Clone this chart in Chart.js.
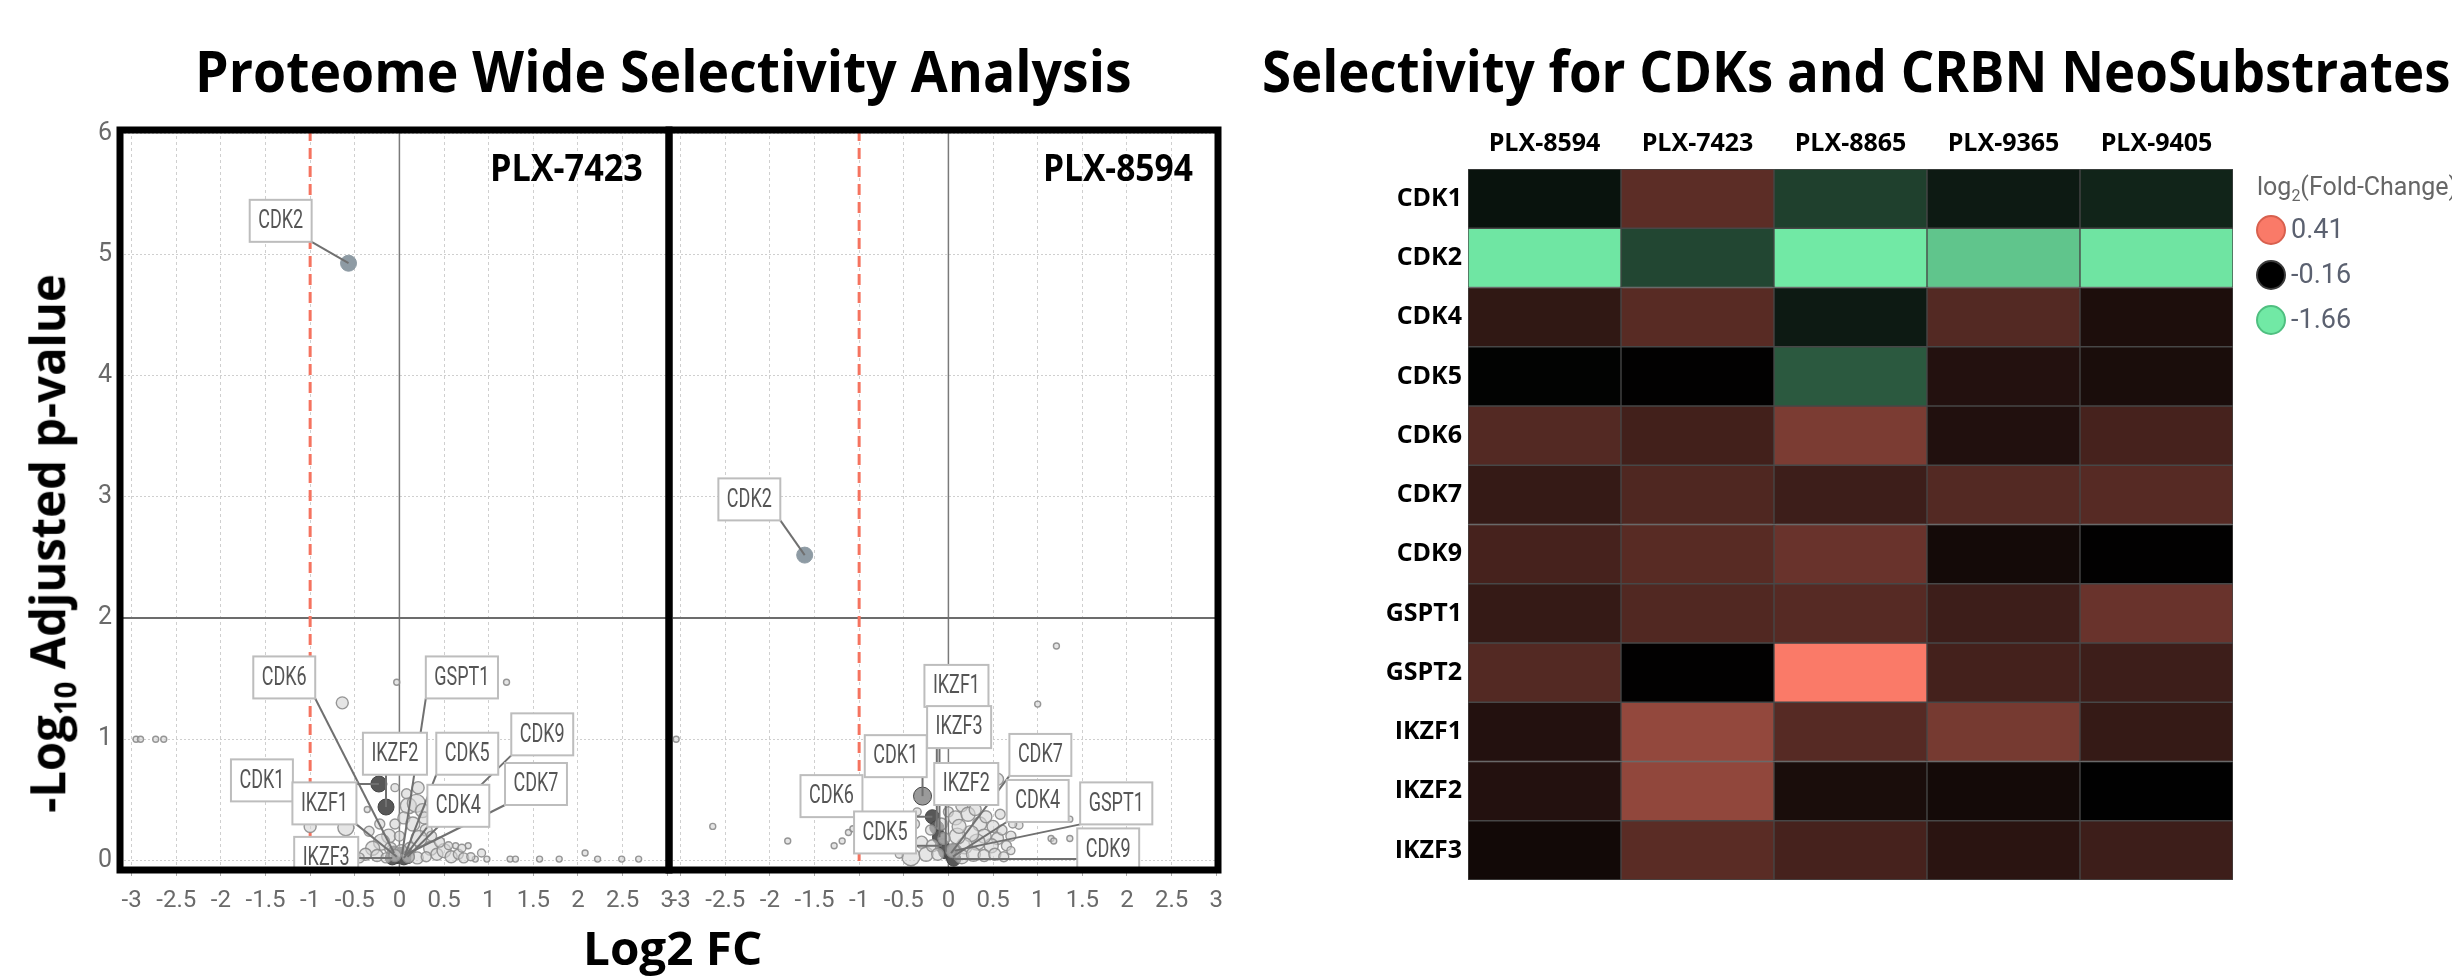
<!DOCTYPE html>
<html>
<head>
<meta charset="utf-8">
<script src="https://cdn.jsdelivr.net/npm/chart.js@4.4.1/dist/chart.umd.min.js"></script>
<style>
  html, body { margin: 0; padding: 0; background: #fff; }
  body { width: 2452px; height: 977px; position: relative; overflow: hidden; }
  canvas { position: absolute; }
  .t { position: absolute; font-family: 'Open Sans', sans-serif; font-weight: 700; color: #000;
       white-space: nowrap; line-height: 1; transform-origin: 0 0; }
  .t sub { font-size: 0.62em; line-height: 0; }
</style>
</head>
<body>
<canvas id="v7423" width="700" height="840" style="left:0;top:100px;width:700px;height:840px"></canvas>
<canvas id="v8594" width="620" height="840" style="left:640px;top:100px;width:620px;height:840px"></canvas>
<canvas id="heat" width="1152" height="800" style="left:1300px;top:110px;width:1152px;height:800px"></canvas>

<div class="t" id="t1" style="left:195px;top:42px;font-size:57px">Proteome Wide Selectivity Analysis</div>
<div class="t" id="t2" style="left:1262px;top:42px;font-size:57px">Selectivity for CDKs and CRBN NeoSubstrates</div>
<div class="t" id="xt" style="left:583px;top:924px;font-size:46px">Log2 FC</div>
<div class="t" id="yt" style="font-size:49px">-Log<sub>10</sub> Adjusted p-value</div>
<div class="t" id="pl1" style="left:490px;top:147px;font-size:38px">PLX-7423</div>
<div class="t" id="pl2" style="left:1043px;top:147px;font-size:38px">PLX-8594</div>

<script>
Chart.defaults.font.family = 'Roboto';
Chart.defaults.animation = false;

// ---- volcano plots ----
var xTicks = [-3, -2.5, -2, -1.5, -1, -0.5, 0, 0.5, 1, 1.5, 2, 2.5, 3];
var yTicks = [0, 1, 2, 3, 4, 5, 6];
var pCutoff = 2;
var fcCutoff = -1;

// PLX-7423, labelled proteins
var genes7423 = ['CDK2', 'CDK1', 'IKZF2', 'CDK6', 'IKZF1', 'IKZF3', 'GSPT1', 'CDK5', 'CDK9', 'CDK7', 'CDK4'];
var fc7423 = [-0.57, -0.23, -0.15, -0.06, -0.03, -0.08, 0.03, 0.06, 0.09, 0.08, 0.05];
var p7423 = [4.93, 0.63, 0.44, 0.06, 0.03, 0.02, 0.05, 0.04, 0.03, 0.05, 0.02];
var size7423 = [8, 8, 8, 7, 7, 7, 7, 7, 7, 7, 7];

// PLX-7423, all other proteins
var bgFc7423 = [-2.95, -2.9, -2.73, -2.64, -0.03, 1.2, -0.64, -1.0, -0.6, -0.36, 0.63, 0.77, 0.85, 0.98, 1.24, 1.3, 1.57, 1.79, 2.08, 2.22, 2.49, 2.68,
  0.1, 0.19, 0.26, 0.05, 0.15, 0.3, 0.22, -0.05, -0.12, -0.2, -0.3, -0.38, -0.45, -0.25, 0.35, 0.42, 0.5, 0.58, 0.66, 0.72, 0.8, 0.28, 0.36,
  -0.1, 0.0, 0.12, -0.34, 0.45, 0.55, -0.15, 0.2, 0.3, -0.52, 0.08, 0.21, -0.05, 0.4, -0.22, 0.02, -0.05, 0.1, -0.6, -0.7, 0.92, 0.7];
var bgP7423 = [1.0, 1.0, 1.0, 1.0, 1.47, 1.47, 1.3, 0.28, 0.27, 0.42, 0.12, 0.12, 0.01, 0.01, 0.01, 0.01, 0.01, 0.01, 0.06, 0.01, 0.01, 0.01,
  0.45, 0.47, 0.41, 0.35, 0.3, 0.25, 0.18, 0.3, 0.2, 0.15, 0.1, 0.05, 0.02, 0.04, 0.1, 0.05, 0.08, 0.03, 0.05, 0.02, 0.03, 0.35, 0.2,
  0.1, 0.2, 0.1, 0.24, 0.15, 0.12, 0.02, 0.02, 0.03, 0.1, 0.55, 0.6, 0.6, 0.33, 0.3, 0.08, 0.04, 0.03, 0.03, 0.02, 0.06, 0.1];
var bgSize7423 = [3, 3, 3, 3, 3, 3, 6, 6, 8, 3, 3, 3, 3, 3, 3, 3, 3, 3, 3, 3, 3, 3,
  8, 9, 7, 6, 7, 6, 8, 5, 7, 8, 7, 6, 5, 6, 7, 6, 7, 6, 5, 5, 4, 6, 5,
  6, 5, 6, 5, 5, 4, 5, 6, 5, 4, 5, 6, 4, 5, 5, 6, 6, 6, 4, 4, 4, 4];

// PLX-8594, labelled proteins
var genes8594 = ['CDK2', 'CDK1', 'CDK6', 'IKZF1', 'IKZF3', 'CDK5', 'IKZF2', 'CDK7', 'CDK4', 'GSPT1', 'CDK9'];
var fc8594v = [-1.61, -0.29, -0.18, -0.13, -0.1, -0.07, -0.03, 0.03, 0.05, 0.07, 0.06];
var p8594v = [2.52, 0.53, 0.36, 0.27, 0.19, 0.12, 0.07, 0.06, 0.03, 0.08, 0.01];
var size8594 = [8, 9, 7, 7, 7, 7, 7, 7, 7, 7, 7];

// PLX-8594, all other proteins
var bgFc8594 = [-3.05, -2.64, -1.8, -1.28, -1.19, -1.12, -1.07, 1.21, 1.0, 1.36, 1.15, 1.18, 1.36, 0.79, -0.42, -0.5, -0.45, -0.38, -0.3, -0.25,
  -0.18, -0.08, 0.0, 0.08, 0.15, 0.22, 0.3, 0.35, 0.42, 0.5, 0.55, 0.6, 0.65, 0.7, 0.48, 0.4, 0.32, 0.25, 0.18, 0.1,
  0.05, 0.15, 0.28, 0.4, 0.52, 0.62, -0.12, -0.05, 0.55, 0.45, 0.38, 0.2, 0.7, -0.55, -0.35, 0.12, 0.58, 0.72, -0.2, 0.02];
var bgP8594 = [1.0, 0.28, 0.16, 0.12, 0.16, 0.23, 0.26, 1.77, 1.29, 0.34, 0.18, 0.16, 0.18, 0.29, 0.03, 0.1, 0.2, 0.3, 0.15, 0.05,
  0.12, 0.3, 0.4, 0.35, 0.45, 0.38, 0.42, 0.3, 0.36, 0.28, 0.18, 0.25, 0.12, 0.2, 0.12, 0.2, 0.15, 0.22, 0.12, 0.2,
  0.08, 0.03, 0.05, 0.04, 0.05, 0.03, 0.05, 0.18, 0.67, 0.55, 0.5, 0.55, 0.08, 0.05, 0.4, 0.28, 0.38, 0.3, 0.25, 0.55];
var bgSize8594 = [3, 3, 3, 3, 3, 3, 3, 3, 3, 3, 3, 3, 3, 4, 9, 5, 4, 5, 6, 7,
  6, 6, 5, 7, 6, 7, 6, 7, 6, 6, 6, 5, 5, 5, 7, 7, 8, 8, 8, 8,
  7, 7, 7, 6, 6, 5, 6, 6, 6, 5, 5, 5, 4, 4, 4, 7, 5, 4, 5, 4];

// where the name boxes sit, in axis units
var boxes7423 = { CDK2: [-1.33, 5.28], CDK6: [-1.29, 1.51], GSPT1: [0.7, 1.51], IKZF2: [-0.05, 0.88], CDK5: [0.76, 0.88],
  CDK9: [1.6, 1.04], CDK1: [-1.54, 0.66], IKZF1: [-0.84, 0.47], CDK4: [0.66, 0.45], CDK7: [1.53, 0.63], IKZF3: [-0.82, 0.02] };
var boxes8594 = { CDK2: [-2.23, 2.98], IKZF1: [0.09, 1.44], IKZF3: [0.12, 1.1], CDK1: [-0.59, 0.86], CDK7: [1.03, 0.87],
  IKZF2: [0.2, 0.63], CDK4: [1.0, 0.49], GSPT1: [1.88, 0.47], CDK6: [-1.31, 0.53], CDK5: [-0.71, 0.23], CDK9: [1.79, 0.09] };

function volcanoDeco(genes, fc, p, boxes) {
  return {
    id: 'volcanoDeco',
    beforeDatasetsDraw: function(chart) {
      var ctx = chart.ctx, a = chart.chartArea, x = chart.scales.x, y = chart.scales.y;
      ctx.save();
      ctx.strokeStyle = '#7a7a7a';
      ctx.lineWidth = 1.5;
      ctx.beginPath();
      ctx.moveTo(x.getPixelForValue(0), a.top);
      ctx.lineTo(x.getPixelForValue(0), a.bottom);
      ctx.stroke();
      ctx.strokeStyle = '#6c6c6c';
      ctx.lineWidth = 2;
      ctx.beginPath();
      ctx.moveTo(a.left, y.getPixelForValue(pCutoff));
      ctx.lineTo(a.right, y.getPixelForValue(pCutoff));
      ctx.stroke();
      ctx.strokeStyle = '#f5735f';
      ctx.lineWidth = 3;
      ctx.setLineDash([11, 7]);
      ctx.beginPath();
      ctx.moveTo(x.getPixelForValue(fcCutoff), a.top);
      ctx.lineTo(x.getPixelForValue(fcCutoff), a.bottom);
      ctx.stroke();
      ctx.restore();
    },
    afterDatasetsDraw: function(chart) {
      var ctx = chart.ctx, a = chart.chartArea, x = chart.scales.x, y = chart.scales.y;
      ctx.save();
      ctx.beginPath();
      ctx.rect(a.left, a.top, a.right - a.left, a.bottom - a.top);
      ctx.clip();
      ctx.font = '25px Roboto';
      var h = 42;
      var items = genes.map(function(g, i) {
        var b = boxes[g];
        var w = ctx.measureText(g).width * 0.72 + 17;
        return { g: g, px: x.getPixelForValue(fc[i]), py: y.getPixelForValue(p[i]),
                 bx: x.getPixelForValue(b[0]), by: y.getPixelForValue(b[1]), w: w };
      });
      // leader lines first, boxes over them
      ctx.strokeStyle = '#707070';
      ctx.lineWidth = 2;
      items.forEach(function(it) {
        var ex = Math.max(it.bx - it.w / 2, Math.min(it.px, it.bx + it.w / 2));
        var ey = Math.max(it.by - h / 2, Math.min(it.py, it.by + h / 2));
        ctx.beginPath();
        ctx.moveTo(ex, ey);
        ctx.lineTo(it.px, it.py);
        ctx.stroke();
      });
      items.forEach(function(it) {
        ctx.fillStyle = '#fff';
        ctx.fillRect(it.bx - it.w / 2, it.by - h / 2, it.w, h);
        ctx.strokeStyle = '#bdbdbd';
        ctx.lineWidth = 2;
        ctx.strokeRect(it.bx - it.w / 2, it.by - h / 2, it.w, h);
        ctx.save();
        ctx.translate(it.bx, it.by + 1);
        ctx.scale(0.72, 1);
        ctx.fillStyle = '#555';
        ctx.textAlign = 'center';
        ctx.textBaseline = 'middle';
        ctx.fillText(it.g, 0, 0);
        ctx.restore();
      });
      ctx.restore();
    },
    afterDraw: function(chart) {
      var ctx = chart.ctx, a = chart.chartArea;
      ctx.save();
      ctx.strokeStyle = '#000';
      ctx.lineWidth = 7;
      ctx.strokeRect(a.left, a.top, a.right - a.left, a.bottom - a.top);
      ctx.restore();
    }
  };
}

function makeVolcano(id, showY, genes, fc, p, size, bgFc, bgP, bgSize, boxes, padLeft, padRight) {
  var bg = bgFc.map(function(v, i) { return { x: v, y: bgP[i], r: bgSize[i] }; });
  var hits = genes.map(function(g, i) { return { x: fc[i], y: p[i], r: size[i] }; });
  return new Chart(document.getElementById(id), {
    type: 'bubble',
    data: {
      datasets: [
        { data: bg, backgroundColor: 'rgba(212,212,212,0.6)', borderColor: 'rgba(140,140,140,0.9)', borderWidth: 1.4 },
        { data: hits,
          backgroundColor: genes.map(function(g, i) { return g === 'CDK2' ? '#8e9ba4' : (size[i] > 8 ? '#9a9a9a' : '#585858'); }),
          borderColor: genes.map(function(g) { return g === 'CDK2' ? '#8e9ba4' : '#454545'; }),
          borderWidth: 1 }
      ]
    },
    options: {
      responsive: false,
      devicePixelRatio: 1,
      layout: { padding: { top: 30, right: padRight, bottom: 10, left: 0 } },
      plugins: { legend: { display: false }, tooltip: { enabled: false } },
      scales: {
        x: {
          type: 'linear', min: -3.13, max: 3.02,
          afterBuildTicks: function(s) { s.ticks = xTicks.map(function(v) { return { value: v }; }); },
          afterFit: function(s) { s.height = 60; },
          ticks: { font: { size: 24 }, color: '#6a6a6a', maxRotation: 0, autoSkip: false, padding: 11,
                   callback: function(v) { return String(v); } },
          grid: { color: '#cfcfcf', lineWidth: 1, tickLength: 6, tickColor: '#aaa' },
          border: { display: false, dash: [3, 3] }
        },
        y: {
          type: 'linear', min: -0.08, max: 6.03,
          afterBuildTicks: function(s) { s.ticks = yTicks.map(function(v) { return { value: v }; }); },
          afterFit: function(s) { s.width = padLeft; },
          ticks: { display: showY, font: { size: 25 }, color: '#6a6a6a', padding: 8,
                   callback: function(v) { return String(v); } },
          grid: { color: '#cfcfcf', lineWidth: 1, drawTicks: false },
          border: { display: false, dash: [2, 2] }
        }
      }
    },
    plugins: [volcanoDeco(genes, fc, p, boxes)]
  });
}

makeVolcano('v7423', true, genes7423, fc7423, p7423, size7423, bgFc7423, bgP7423, bgSize7423, boxes7423, 120, 31);
makeVolcano('v8594', false, genes8594, fc8594v, p8594v, size8594, bgFc8594, bgP8594, bgSize8594, boxes8594, 29, 42);

// ---- heatmap: log2 fold change ----
var compounds = ['PLX-8594', 'PLX-7423', 'PLX-8865', 'PLX-9365', 'PLX-9405'];
var proteins = ['CDK1', 'CDK2', 'CDK4', 'CDK5', 'CDK6', 'CDK7', 'CDK9', 'GSPT1', 'GSPT2', 'IKZF1', 'IKZF2', 'IKZF3'];
var fc8594 = [-0.28, -1.64, -0.05, -0.18, 0.03, -0.04, 0.0, -0.04, 0.03, -0.08, -0.08, -0.12];
var fc7423h = [0.05, -0.61, 0.04, -0.155, -0.01, 0.02, 0.04, 0.025, -0.155, 0.175, 0.17, 0.045];
var fc8865 = [-0.57, -1.66, -0.33, -0.73, 0.12, -0.02, 0.08, 0.035, 0.41, 0.035, -0.1, 0.0];
var fc9365 = [-0.33, -1.43, 0.03, -0.08, -0.085, 0.03, -0.115, -0.02, -0.005, 0.11, -0.115, -0.065];
var fc9405 = [-0.39, -1.63, -0.095, -0.1, 0.0, 0.035, -0.155, 0.08, -0.02, -0.04, -0.157, -0.02];
var legendStops = [0.41, -0.16, -1.66];

var columns = [fc8594, fc7423h, fc8865, fc9365, fc9405];

function cellColor(v) {
  var hi = legendStops[0], mid = legendStops[1], lo = legendStops[2], t;
  if (v >= mid) {
    t = Math.min(1, (v - mid) / (hi - mid));
    return 'rgb(' + Math.round(250 * t) + ',' + Math.round(122 * t) + ',' + Math.round(104 * t) + ')';
  }
  t = Math.min(1, (mid - v) / (mid - lo));
  return 'rgb(' + Math.round(113 * t) + ',' + Math.round(233 * t) + ',' + Math.round(165 * t) + ')';
}

var heatLegend = {
  id: 'heatLegend',
  afterDraw: function(chart) {
    var ctx = chart.ctx, a = chart.chartArea;
    var lx = a.right + 24;
    ctx.save();
    ctx.fillStyle = '#666';
    ctx.textBaseline = 'alphabetic';
    ctx.font = '25px Roboto';
    ctx.fillText('log', lx, a.top + 26);
    var w1 = ctx.measureText('log').width;
    ctx.font = '16px Roboto';
    ctx.fillText('2', lx + w1, a.top + 32);
    var w2 = ctx.measureText('2').width;
    ctx.font = '25px Roboto';
    ctx.fillText('(Fold-Change)', lx + w1 + w2, a.top + 26);
    var rims = ['#d8604e', '#3a3a3a', '#4fbf80'];
    legendStops.forEach(function(v, i) {
      var cy = a.top + 61 + i * 45;
      ctx.beginPath();
      ctx.arc(a.right + 38, cy, 14, 0, Math.PI * 2);
      ctx.fillStyle = cellColor(v);
      ctx.fill();
      ctx.lineWidth = 2;
      ctx.strokeStyle = rims[i];
      ctx.stroke();
      ctx.fillStyle = '#5b6170';
      ctx.font = '27px Roboto';
      ctx.textBaseline = 'middle';
      ctx.fillText(v.toFixed(2), a.right + 58, cy + 1);
    });
    ctx.restore();
  }
};

new Chart(document.getElementById('heat'), {
  type: 'bar',
  data: {
    labels: compounds,
    datasets: proteins.map(function(name, i) {
      return {
        label: name,
        data: compounds.map(function() { return [i, i + 1]; }),
        backgroundColor: columns.map(function(col) { return cellColor(col[i]); }),
        borderColor: '#474747',
        borderWidth: 1,
        borderSkipped: false,
        barPercentage: 1,
        categoryPercentage: 1,
        grouped: false
      };
    })
  },
  options: {
    responsive: false,
    devicePixelRatio: 1,
    layout: { padding: { top: 0, right: 219, bottom: 30, left: 0 } },
    plugins: { legend: { display: false }, tooltip: { enabled: false } },
    scales: {
      x: {
        type: 'category', position: 'top',
        afterFit: function(s) { s.height = 59; },
        grid: { display: false, drawTicks: false },
        border: { display: false },
        ticks: { font: { family: 'Open Sans', weight: 'bold', size: 25 }, color: '#000', padding: 10 }
      },
      y: {
        type: 'linear', reverse: true, min: 0, max: 12,
        afterBuildTicks: function(s) { s.ticks = proteins.map(function(n, i) { return { value: i + 0.5 }; }); },
        afterFit: function(s) { s.width = 168; },
        grid: { display: false, drawTicks: false },
        border: { display: false },
        ticks: { font: { family: 'Open Sans', weight: 'bold', size: 25 }, color: '#000', padding: 6,
                 callback: function(v) { return proteins[Math.floor(v)]; } }
      }
    }
  },
  plugins: [heatLegend]
});

// ---- titles: squeeze to the reference widths ----
function fit(id, width) {
  var el = document.getElementById(id);
  el.style.transform = 'scaleX(' + (width / el.offsetWidth) + ')';
}
fit('t1', 937);
fit('t2', 1188);
fit('xt', 179);
fit('pl1', 153);
fit('pl2', 150);
var yt = document.getElementById('yt');
var yw = yt.offsetWidth, yh = yt.offsetHeight;
yt.style.left = (47 - yw / 2) + 'px';
yt.style.top = (543 - yh / 2) + 'px';
yt.style.transformOrigin = '50% 50%';
yt.style.transform = 'rotate(-90deg) scaleX(' + (539 / yw) + ')';
</script>
</body>
</html>
